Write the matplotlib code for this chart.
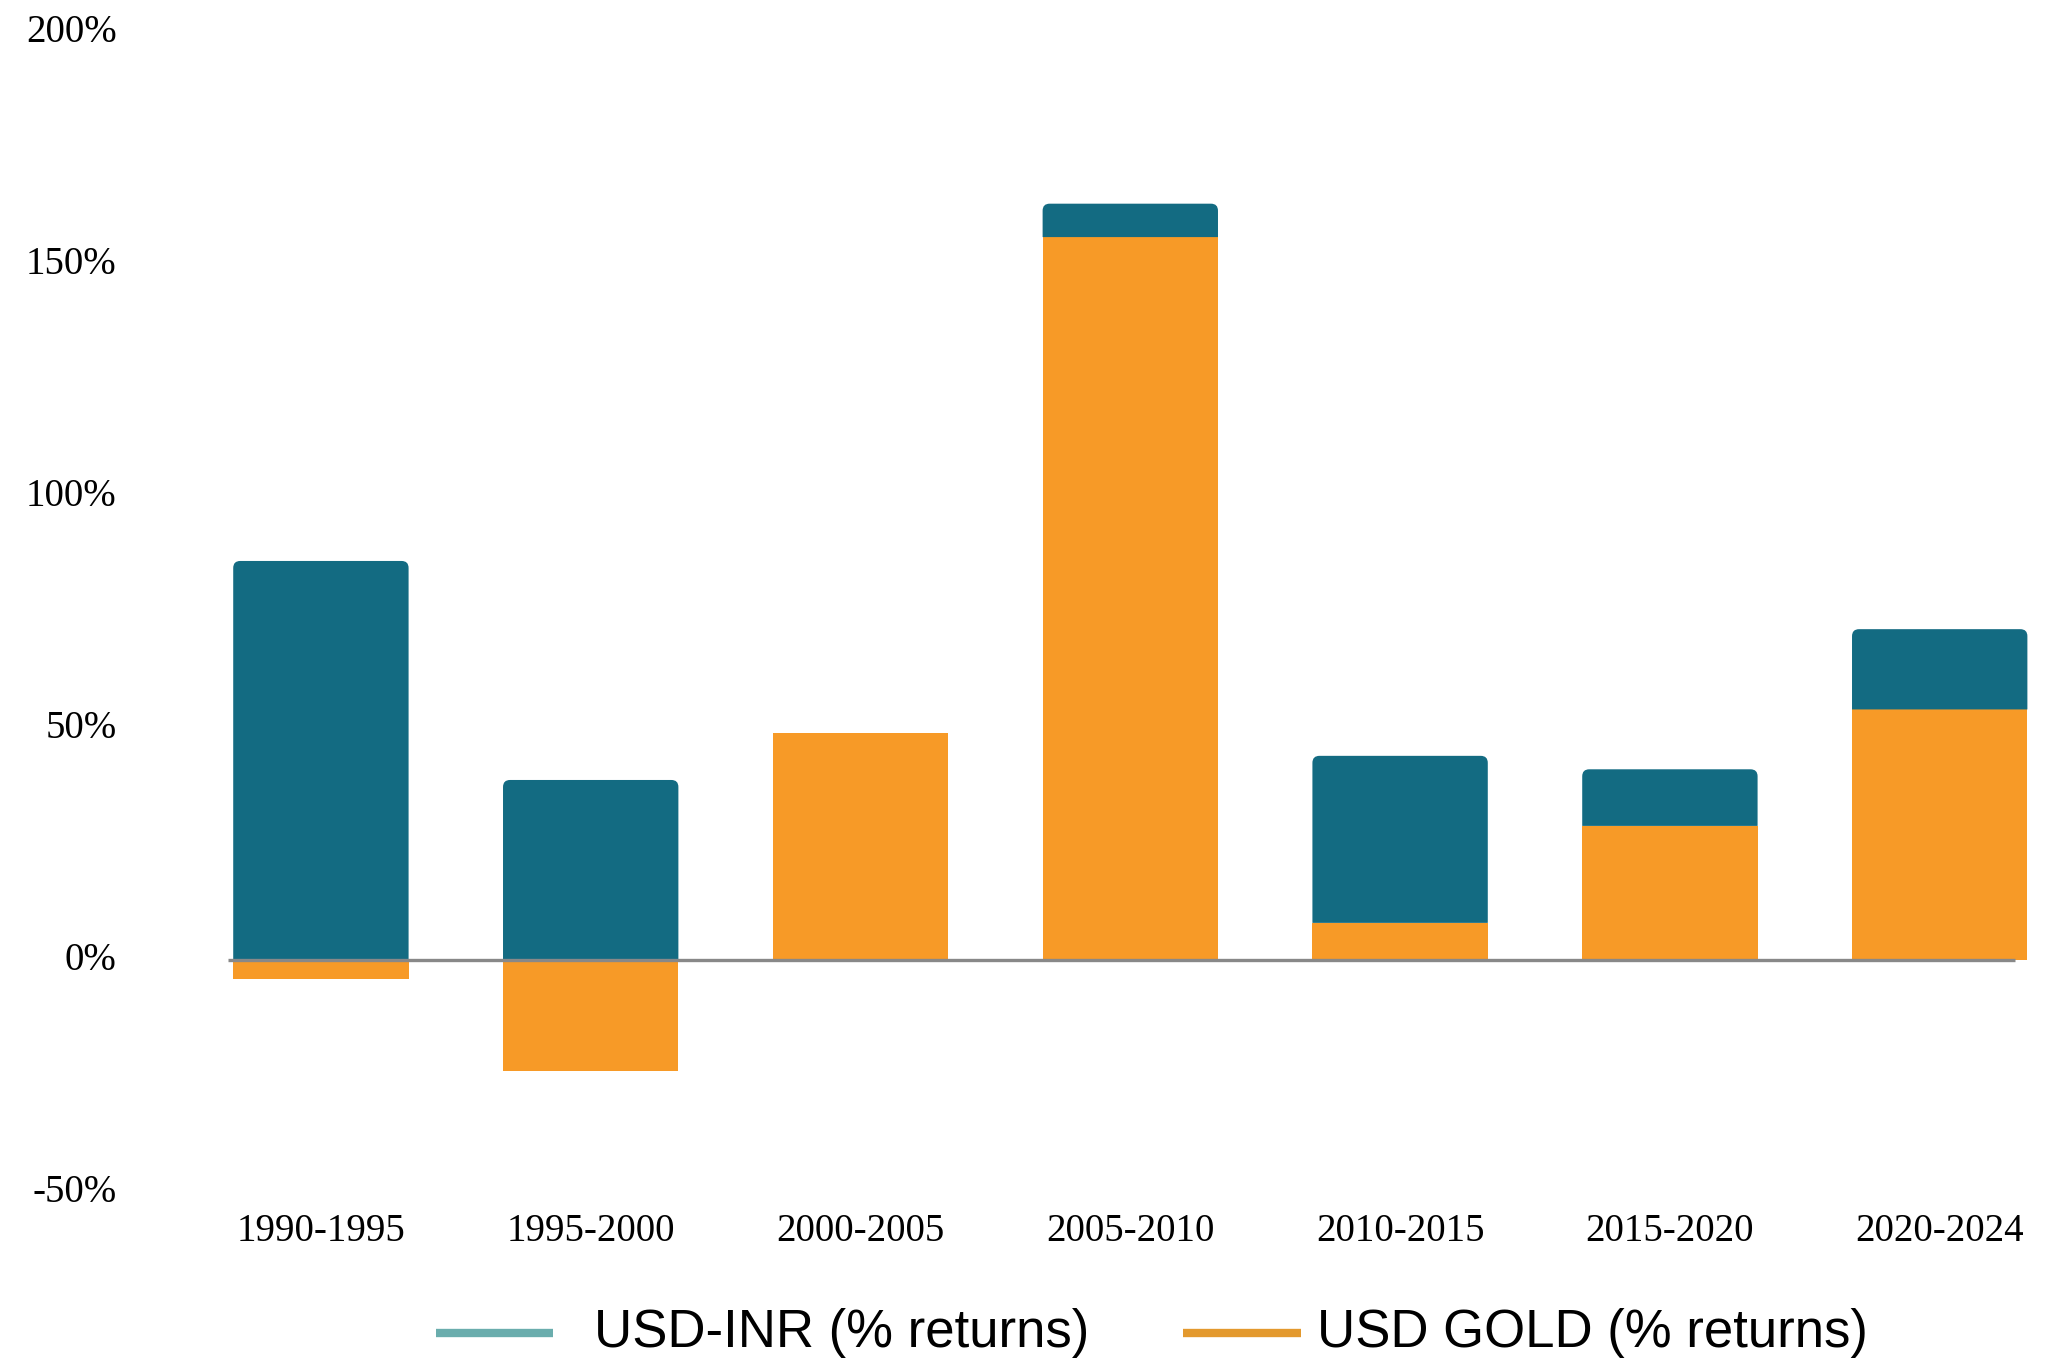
import matplotlib.pyplot as plt
from matplotlib.patches import PathPatch
from matplotlib.path import Path
from matplotlib.lines import Line2D
from matplotlib.transforms import ScaledTranslation
import numpy as np

periods = ['1990-1995', '1995-2000', '2000-2005', '2005-2010',
           '2010-2015', '2015-2020', '2020-2024']
usd_inr = [86, 38.8, 0, 7.2, 36, 12.2, 17.3]
usd_gold = [-4, -24, 49, 155.8, 8, 28.9, 54]
y_ticks = [-50, 0, 50, 100, 150, 200]

teal = '#136b82'
orange = '#f79a27'
teal_legend = '#6aadad'
orange_legend = '#e3992e'

fig = plt.figure(figsize=(20.59, 13.60), dpi=100)
ax = fig.add_axes([186 / 2059, 168 / 1360, 1873 / 2059, 1160 / 1360])
ax.set_xlim(-0.5, -0.5 + 1873 / 269.8)
ax.set_ylim(-50, 200)

x = np.arange(len(periods))
width = 0.65

# gold sits at the bottom of the stack, INR on top of positive gold
ax.bar(x, usd_gold, width, color=orange, linewidth=0, zorder=2)
base = [g if g > 0 else 0 for g in usd_gold]


def top_rounded(left, bottom, w, h, rx, ry):
    right, top = left + w, bottom + h
    verts = [(left, bottom), (right, bottom), (right, top - ry),
             (right, top), (right - rx, top), (left + rx, top),
             (left, top), (left, top - ry), (left, bottom)]
    codes = [Path.MOVETO, Path.LINETO, Path.LINETO,
             Path.CURVE3, Path.CURVE3, Path.LINETO,
             Path.CURVE3, Path.CURVE3, Path.CLOSEPOLY]
    return Path(verts, codes)


# corner radius of about 7 px, converted to data units on each axis
p0 = ax.transData.transform((0, 0))
px = ax.transData.transform((1, 1)) - p0
rx, ry = 7 / px[0], 7 / abs(px[1])
for xi, b, h in zip(x, base, usd_inr):
    if h <= 0:
        continue
    path = top_rounded(xi - width / 2, b, width, h, rx, ry)
    ax.add_patch(PathPatch(path, facecolor=teal, edgecolor='none', zorder=2))

ax.hlines(0, -0.345, 6.28, color='#888888', linewidth=2.4, zorder=3)

ax.set_yticks(y_ticks)
ax.set_yticklabels([f'{t}%' for t in y_ticks])
ax.set_xticks(x)
ax.set_xticklabels(periods)
ax.tick_params(axis='y', length=0, pad=50, labelsize=28)
ax.tick_params(axis='x', length=0, pad=15, labelsize=28)
nudge = ScaledTranslation(0, 4 / 100, fig.dpi_scale_trans)
for lbl in ax.get_yticklabels():
    lbl.set_transform(lbl.get_transform() + nudge)
for lbl in ax.get_xticklabels() + ax.get_yticklabels():
    lbl.set_fontfamily('Liberation Serif')
for s in ax.spines.values():
    s.set_visible(False)

# legend along the bottom edge
ly = 27 / 1360
fig.add_artist(Line2D([436 / 2059, 553 / 2059], [ly, ly], color=teal_legend,
                      linewidth=6, solid_capstyle='butt'))
fig.add_artist(Line2D([1183 / 2059, 1301 / 2059], [ly, ly], color=orange_legend,
                      linewidth=6, solid_capstyle='butt'))
fig.text(594 / 2059, ly, 'USD-INR (% returns)', fontsize=38,
         family='Liberation Sans', va='center', ha='left')
fig.text(1317 / 2059, ly, 'USD GOLD (% returns)', fontsize=38,
         family='Liberation Sans', va='center', ha='left')

fig.savefig('out.png', dpi=100, facecolor='white')
